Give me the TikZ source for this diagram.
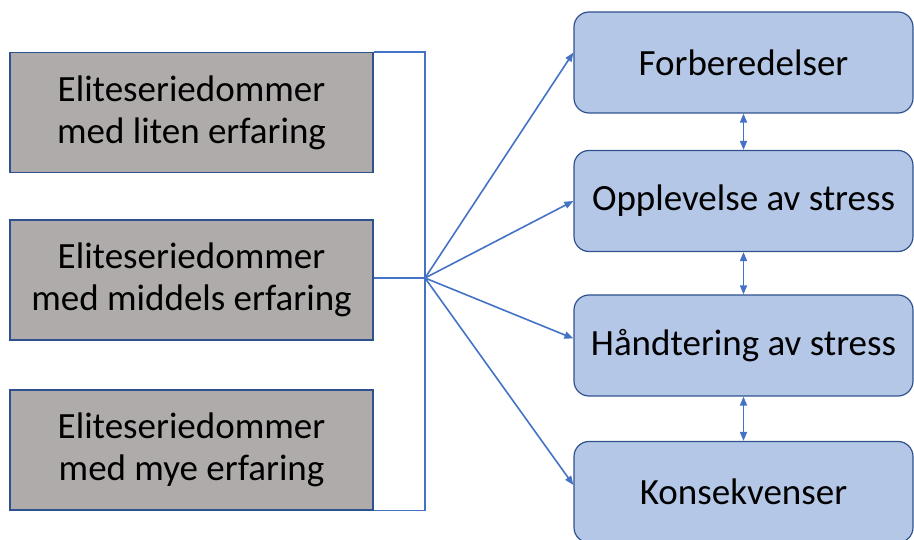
\documentclass[tikz,border=0pt]{standalone}
\usepackage{fontspec}
\setmainfont{Carlito}
\usepackage{xcolor}
\usetikzlibrary{positioning, arrows.meta}

\definecolor{greyfill}{HTML}{AFABAB}
\definecolor{bluefill}{HTML}{B4C7E7}
\definecolor{darkline}{HTML}{2F528F}
\definecolor{linkblue}{HTML}{4472C4}

\begin{document}
\begin{tikzpicture}[
    x=1pt, y=1pt,
    group/.style={rectangle, draw=darkline, fill=greyfill, line width=1.2pt,
        minimum width=363pt, minimum height=120pt, align=center,
        font=\fontsize{37}{42}\selectfont, inner sep=0pt},
    theme/.style={rectangle, rounded corners=15pt, draw=darkline, fill=bluefill,
        line width=1.2pt, minimum width=339pt, minimum height=101pt,
        font=\fontsize{37}{42}\selectfont, inner sep=0pt},
    link/.style={draw=linkblue, line width=1.6pt},
    every edge/.style={link, -{Triangle[length=9pt,width=7pt]}}
]
\useasboundingbox (0,0) rectangle (914,539);

\node[group] (liten) at (191.5,426.5) {Eliteseriedommer\\med liten erfaring};
\node[group] (middels) at (191.5,259) {Eliteseriedommer\\med middels erfaring};
\node[group] (mye) at (191.5,89) {Eliteseriedommer\\med mye erfaring};

\node[theme] (forb) at (743.5,476.5) {Forberedelser};
\node[theme] (oppl) at (743.5,338) {Opplevelse av stress};
\node[theme] (hand) at (743.5,193.5) {Håndtering av stress};
\node[theme] (kons) at (743.5,47) {Konsekvenser};

\coordinate (hub) at (425,261);

\draw[link] (liten.north east) -- (liten.north east -| hub) -- (mye.south east -| hub) -- (mye.south east);
\draw[link] (middels.east |- hub) -- (hub);

\draw (hub) edge ([yshift=10pt]forb.west)
      (hub) edge (oppl.west)
      (hub) edge ([yshift=7pt]hand.west)
      (hub) edge ([yshift=7pt]kons.west);

\draw[link, {Triangle[length=9pt,width=7pt]}-{Triangle[length=9pt,width=7pt]}] (forb.south) -- (oppl.north);
\draw[link, {Triangle[length=9pt,width=7pt]}-{Triangle[length=9pt,width=7pt]}] (oppl.south) -- (hand.north);
\draw[link, {Triangle[length=9pt,width=7pt]}-{Triangle[length=9pt,width=7pt]}] (hand.south) -- (kons.north);
\end{tikzpicture}
\end{document}
